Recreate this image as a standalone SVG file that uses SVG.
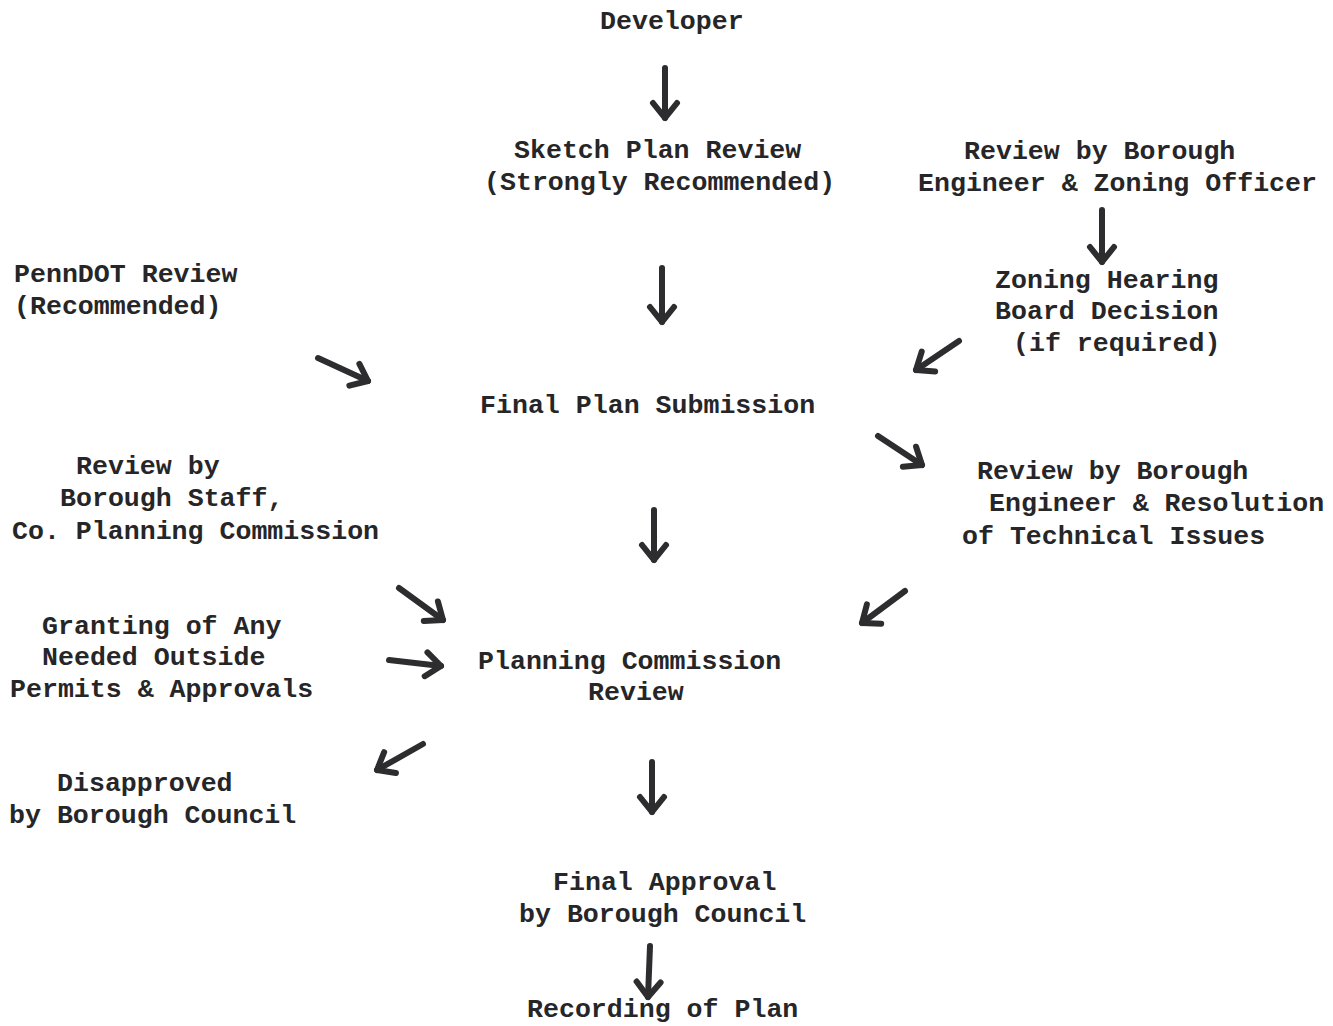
<svg xmlns="http://www.w3.org/2000/svg" width="1333" height="1026" viewBox="0 0 1333 1026">
<defs>
<style>
text{font-family:"Liberation Mono","DejaVu Sans Mono",monospace;font-size:26.6px;font-weight:bold;fill:#262628}
.c line{stroke:#2d2d30;stroke-width:6;stroke-linecap:round;marker-end:url(#ah)}
</style>
<marker id="ah" viewBox="0 -4 28 32" refX="20" refY="12" markerWidth="28" markerHeight="32" markerUnits="userSpaceOnUse" orient="auto">
<path d="M5,0 L20,12 L5,24" fill="none" stroke="#2d2d30" stroke-width="6" stroke-linecap="round" stroke-linejoin="round"/>
</marker>
</defs>
<rect width="1333" height="1026" fill="#fff"/>
<g id="developer"><text x="600" y="29">Developer</text></g>
<g id="sketch"><text x="514" y="158">Sketch Plan Review</text><text x="484" y="190">(Strongly Recommended)</text></g>
<g id="review-zoning"><text x="964" y="159">Review by Borough</text><text x="918" y="191">Engineer &amp; Zoning Officer</text></g>
<g id="penndot"><text x="14" y="282">PennDOT Review</text><text x="14" y="314">(Recommended)</text></g>
<g id="zhb"><text x="995" y="288">Zoning Hearing</text><text x="995" y="319">Board Decision</text><text x="1013" y="351">(if required)</text></g>
<g id="final-sub"><text x="480" y="413">Final Plan Submission</text></g>
<g id="staff"><text x="76" y="474">Review by</text><text x="60" y="506">Borough Staff,</text><text x="12" y="539">Co. Planning Commission</text></g>
<g id="technical"><text x="977" y="479">Review by Borough</text><text x="989" y="511">Engineer &amp; Resolution</text><text x="962" y="544">of Technical Issues</text></g>
<g id="permits"><text x="42" y="634">Granting of Any</text><text x="42" y="665">Needed Outside</text><text x="10" y="697">Permits &amp; Approvals</text></g>
<g id="pc"><text x="478" y="669">Planning Commission</text><text x="588" y="700">Review</text></g>
<g id="disapproved"><text x="57" y="791">Disapproved</text><text x="9" y="823">by Borough Council</text></g>
<g id="approval"><text x="553" y="890">Final Approval</text><text x="519" y="922">by Borough Council</text></g>
<g id="recording"><text x="527" y="1017">Recording of Plan</text></g>
<g id="connectors" class="c">
<line x1="665" y1="68" x2="665" y2="118"/>
<line x1="662" y1="268" x2="662" y2="322"/>
<line x1="1102" y1="210" x2="1102" y2="262"/>
<line x1="318" y1="358" x2="368" y2="381"/>
<line x1="959" y1="341" x2="916" y2="370"/>
<line x1="878" y1="436" x2="922" y2="465"/>
<line x1="654" y1="510" x2="654" y2="560"/>
<line x1="399" y1="588" x2="443" y2="620"/>
<line x1="389" y1="660" x2="441" y2="666"/>
<line x1="905" y1="591" x2="862" y2="623"/>
<line x1="423" y1="744" x2="377" y2="770"/>
<line x1="652" y1="762" x2="652" y2="812"/>
<line x1="650" y1="946" x2="648" y2="997"/>
</g>
</svg>
